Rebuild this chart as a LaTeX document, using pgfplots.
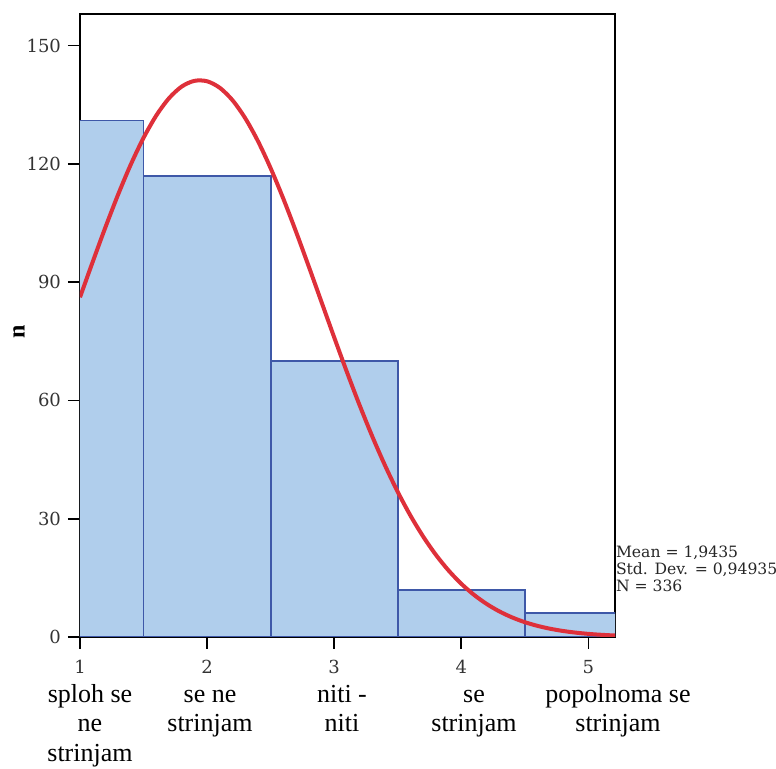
\documentclass[border=0pt]{standalone}
\usepackage{fontspec}
\setmainfont{Liberation Serif}
\newfontfamily\screenserif{DejaVu Serif}
\usepackage{pgfplots}
\pgfplotsset{compat=1.18}

\definecolor{barfill}{RGB}{176,206,236}
\definecolor{baredge}{RGB}{62,88,168}
\definecolor{curvered}{RGB}{222,48,58}

\begin{document}
\begin{tikzpicture}
\begin{axis}[
  name=ax,
  scale only axis,
  width=267.5pt, height=311.5pt,
  xmin=1, xmax=5.21, ymin=0, ymax=158,
  xtick={1,2,3,4,5}, ytick={0,30,60,90,120,150},
  xtick pos=bottom, ytick pos=left,
  tick align=outside, major tick length=6pt,
  tick style={black, line width=0.8pt},
  axis line style={black, line width=0.8pt},
  /pgf/number format/assume math mode=true,
  ticklabel style={font=\screenserif\fontsize{9}{10}\selectfont, text=black!80},
  xticklabel style={yshift=-2pt},
  ylabel={\textbf{n}},
  ylabel style={font=\fontsize{12}{13}\selectfont, at={(rel axis cs:0,0.49)},
    anchor=center, yshift=30.5pt},
  clip=true,
]
% histogram counts, bins of width 1 centred on 1..5
\addplot[ybar interval, fill=barfill, draw=baredge, line width=0.9pt]
  coordinates {(0.5,131) (1.5,117) (2.5,70) (3.5,12) (4.5,6) (5.5,6)};
% normal curve, mean 1.9435, sd 0.94935, N 336
\addplot[smooth, curvered, line width=2pt] coordinates {
(1.0,86.15) (1.1,95.14) (1.2,103.90) (1.3,112.21) (1.4,119.85) (1.5,126.59)
(1.6,132.24) (1.7,136.62) (1.8,139.59) (1.9,141.04) (2.0,140.94) (2.1,139.28)
(2.2,136.13) (2.3,131.58) (2.4,125.78) (2.5,118.90) (2.6,111.16) (2.7,102.78)
(2.8,93.98) (2.9,84.99) (3.0,76.01) (3.1,67.23) (3.2,58.80) (3.3,50.87)
(3.4,43.52) (3.5,36.82) (3.6,30.81) (3.7,25.50) (3.8,20.86) (3.9,16.88)
(4.0,13.51) (4.1,10.70) (4.2,8.38) (4.3,6.49) (4.4,4.97) (4.5,3.76)
(4.6,2.82) (4.7,2.09) (4.8,1.53) (4.9,1.11) (5.0,0.79) (5.1,0.56) (5.2,0.39)
(5.21,0.38)};
\end{axis}
% statistics box
\node[anchor=north west, inner sep=0pt, align=left, text=black!85,
      font=\screenserif\fontsize{7.8}{8.5}\selectfont] at ([xshift=0.3pt,yshift=-266pt]ax.north east)
  {Mean = 1,9435\\Std. Dev. = 0,94935\\N = 336};
% category labels
\begin{scope}[every node/.style={anchor=north, inner sep=0pt, align=center,
      font=\fontsize{13}{14.8}\selectfont}]
\node at ([xshift=5pt,yshift=-22pt]ax.south west) {\strut sploh se\\ne\\strinjam};
\node at ([xshift=65pt,yshift=-22pt]ax.south west) {\strut se ne\\strinjam};
\node at ([xshift=131pt,yshift=-22pt]ax.south west) {\strut niti -\\niti};
\node at ([xshift=197pt,yshift=-22pt]ax.south west) {\strut se\\strinjam};
\node at ([xshift=269pt,yshift=-22pt]ax.south west) {\strut popolnoma se\\strinjam};
\end{scope}
\pgfresetboundingbox
\path ([shift={(-40pt,-66pt)}]ax.south west) rectangle ([shift={(80.5pt,7pt)}]ax.north east);
\end{tikzpicture}
\end{document}
